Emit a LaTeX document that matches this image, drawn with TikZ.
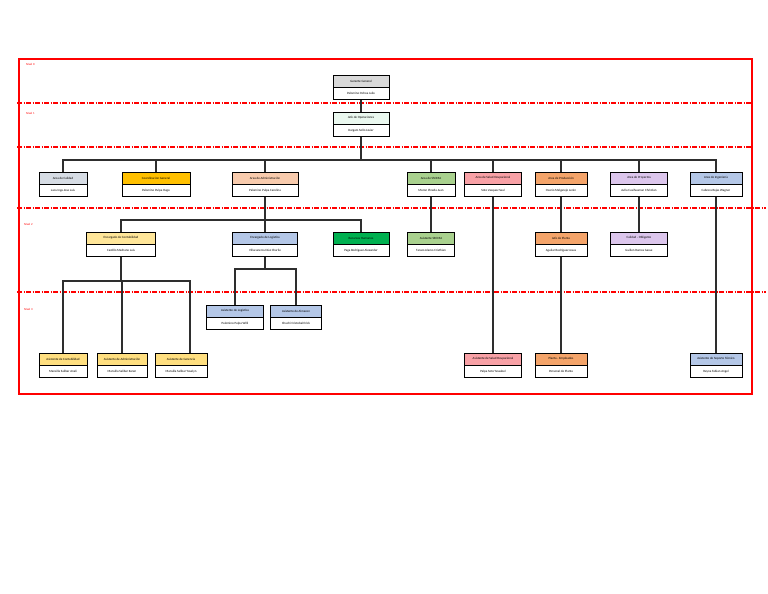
\documentclass[tikz,border=0pt]{standalone}
\usepackage{fontspec}
\setmainfont{Carlito}
\usetikzlibrary{positioning,calc}
\definecolor{framered}{HTML}{FF0000}
\definecolor{linedark}{HTML}{2E2E2E}
\definecolor{gerentegray}{HTML}{D9D9D9}
\definecolor{jefemint}{HTML}{EAF8EF}
\definecolor{calidadgray}{HTML}{D6DCE4}
\definecolor{coordgold}{HTML}{FFC000}
\definecolor{admpeach}{HTML}{F8CBAD}
\definecolor{ssomagreen}{HTML}{A9D18E}
\definecolor{saludpink}{HTML}{F8A1A6}
\definecolor{prodorange}{HTML}{F4A46A}
\definecolor{proylilac}{HTML}{DCC6EC}
\definecolor{ingblue}{HTML}{B4C7E7}
\definecolor{contyellow}{HTML}{FFE699}
\definecolor{asisyellow}{HTML}{FFDF80}
\definecolor{rrhhgreen}{HTML}{00B050}
\tikzset{
  hdr/.style={
    rectangle, draw=black, line width=0.7pt, minimum height=12, inner sep=0pt,
    align=center, font=\fontsize{3.2}{4}\selectfont
  },
  body/.style={hdr, fill=white},
  link/.style={draw=linedark, line width=1.2pt},
  levelline/.style={draw=framered, line width=1.4pt, dash pattern=on 5pt off 1.5pt on 1pt off 1.5pt},
  levellabel/.style={font=\fontsize{3}{3.5}\selectfont, text=framered, anchor=west, inner sep=0pt}
}
% name, x, y (header centre), width, colour, title, person
\newcommand{\orgbox}[7]{
  \node[hdr, fill=#5, minimum width=#4] (#1) at (#2,#3) {#6};
  \node[body, minimum width=#4, below=0pt of #1] (#1p) {#7};
}

\begin{document}
\begin{tikzpicture}[x=1pt, y=-1pt, node distance=0pt]
\useasboundingbox (0,0) rectangle (768,594);
% frame and levels
\draw[framered, line width=1.6pt] (19,59) rectangle (752,394);
\draw[levelline] (17,103) -- (752,103);
\draw[levelline] (17,147) -- (752,147);
\draw[levelline] (17,208) -- (766,208);
\draw[levelline] (17,292) -- (766,292);
\node[levellabel] (niv0) at (26,64) {Nivel 0};
\node[levellabel] (niv1) at (26,113) {Nivel 1};
\node[levellabel] (niv2) at (24,224) {Nivel 2};
\node[levellabel] (niv3) at (24,309) {Nivel 3};

% nivel 0
\orgbox{gg}{361}{81}{56}{gerentegray}{Gerente General}{Palomino Ochoa Julio}
\orgbox{jo}{361}{118}{56}{jefemint}{Jefe de Operaciones}{Dargam Sollo Javier}

% nivel 1
\orgbox{cal}{63}{178}{48}{calidadgray}{Area de Calidad}{Laos Inga Jose Luis}
\orgbox{coord}{156}{178}{68}{coordgold}{Coordinacion General}{Palomino Pulpa Hugo}
\orgbox{adm}{265}{178}{66}{admpeach}{Area de Administración}{Palomino Pulpa Carolina}
\orgbox{ssoma}{431}{178}{48}{ssomagreen}{Area de SSOMA}{Moron Pineda Juan}
\orgbox{salud}{493}{178}{57}{saludpink}{Area de Salud Ocupacional}{Soto Vasquez Saul}
\orgbox{prod}{561}{178}{52}{prodorange}{Area de Producción}{Osorio Melgarejo Lenin}
\orgbox{proy}{639}{178}{57}{proylilac}{Area de Proyectos}{Avila Cusihuaman Christian}
\orgbox{ing}{716}{178}{52}{ingblue}{Area de Ingeniería}{Cabrera Rojas Wagner}

% nivel 2
\orgbox{econ}{121}{238}{69}{contyellow}{Encargado de Contabilidad}{Castillo Medrano Luis}
\orgbox{elog}{265}{238}{65}{ingblue}{Encargado de Logística}{Villacaneros Díaz Charlie}
\orgbox{rrhh}{361}{238}{56}{rrhhgreen}{Recursos Humanos}{Paga Rodriguez Alexander}
\orgbox{assoma}{431}{238}{47}{ssomagreen}{Asistente SSOMA}{Tarazo Alamo Cristhian}
\orgbox{jpla}{561}{238}{52}{prodorange}{Jefe de Planta}{Aguilar Rodriguez Jesus}
\orgbox{calo}{639}{238}{57}{proylilac}{Calidad - Obligante}{Guillen Ramos Gasse}

% nivel 3
\orgbox{alog}{235}{311}{57}{ingblue}{Asistente de Logística}{Palomino Pulpa Willi}
\orgbox{aalm}{296}{311}{51}{ingblue}{Asistente de Almacen}{Chuchi Cristobal Erick}
\orgbox{acon}{63}{359}{48}{asisyellow}{Asistente de Contabilidad}{Mansilla Salibar Anali}
\orgbox{aadm}{122}{359}{50}{asisyellow}{Asistente de Administración}{Mansilla Salibar Karen}
\orgbox{ager}{181}{359}{52}{asisyellow}{Asistente de Gerencia}{Mansilla Salibar Yoselyn}
\orgbox{asal}{493}{359}{57}{saludpink}{Asistente de Salud Ocupacional}{Palpa Soto Yessabel}
\orgbox{plan}{561}{359}{52}{prodorange}{Planta - Empleados}{Personal de Planta}
\orgbox{asop}{716}{359}{52}{ingblue}{Asistente de Soporte Técnico}{Reyna Fabian Angel}

% connectors
\coordinate (busjo) at (361,160);
\coordinate (busadm) at (265,220);
\coordinate (buslog) at (265,269);
\coordinate (buscon) at (121,281);
\draw[link] (ggp.south) -- (jo.north);
\draw[link] (jop.south) -- (busjo);
\foreach \n in {cal,coord,adm,ssoma,salud,prod,proy,ing}
  \draw[link] (busjo) -| (\n.north);
\draw[link] (admp.south) -- (busadm);
\foreach \n in {econ,elog,rrhh}
  \draw[link] (busadm) -| (\n.north);
\draw[link] (ssomap.south) -- (assoma.north);
\draw[link] (prodp.south) -- (jpla.north);
\draw[link] (proyp.south) -- (calo.north);
\draw[link] (saludp.south) -- (asal.north);
\draw[link] (ingp.south) -- (asop.north);
\draw[link] (jplap.south) -- (plan.north);
\draw[link] (elogp.south) -- (buslog);
\foreach \n in {alog,aalm}
  \draw[link] (buslog) -| (\n.north);
\draw[link] (econp.south) -- (buscon);
\draw[link] (buscon) -| (acon.north);
\draw[link] (buscon) -| (aadm.north);
\draw[link] (buscon) -| ($(ager.north)+(9,0)$);
\end{tikzpicture}
\end{document}
